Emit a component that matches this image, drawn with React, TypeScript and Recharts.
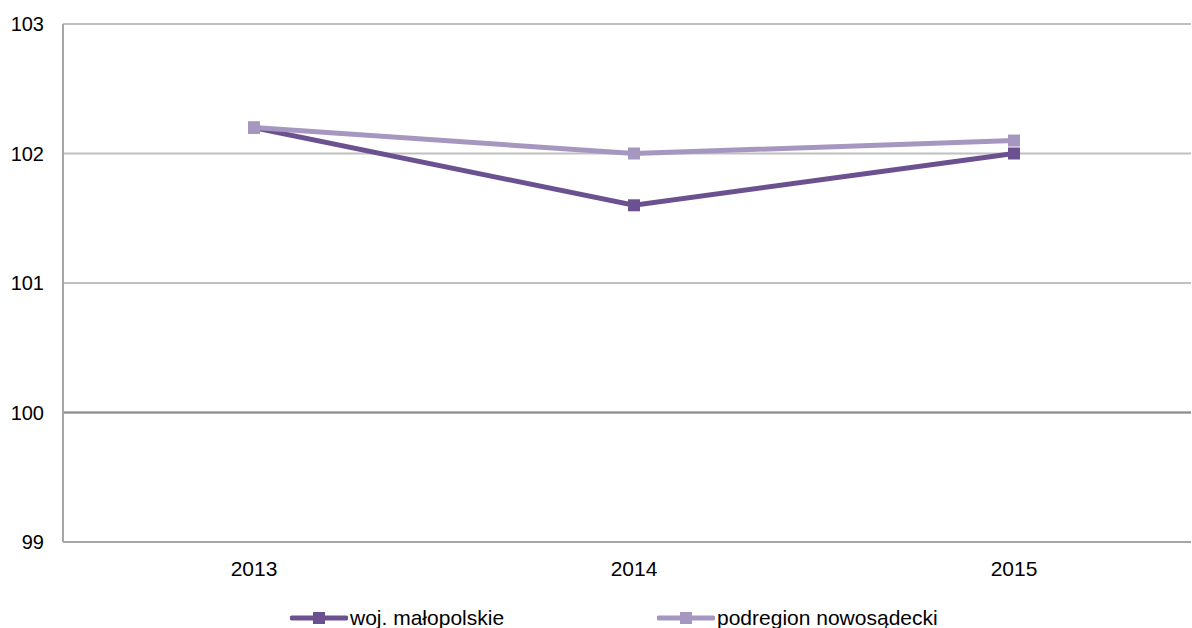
import { LineChart, Line, XAxis, YAxis, CartesianGrid, Legend, ReferenceLine } from "recharts";

const years = ["2013", "2014", "2015"];
const wojMalopolskie = [102.2, 101.6, 102.0];
const podregionNowosadecki = [102.2, 102.0, 102.1];
const yTicks = [99, 100, 101, 102, 103];

const seriesInfo = [
  { key: "woj", name: "woj. małopolskie", color: "#6b5190" },
  { key: "pod", name: "podregion nowosądecki", color: "#a697c0" },
];

const data = years.map((y, i) => ({
  year: y,
  woj: wojMalopolskie[i],
  pod: podregionNowosadecki[i],
}));

const font = "'Liberation Sans', Arial, sans-serif";

function squareDot(color: string) {
  return (p: any) => {
    if (p.cx == null || p.cy == null) return <g key={p.key ?? p.index} />;
    return <rect key={p.key ?? p.index} x={p.cx - 6} y={p.cy - 6} width={12} height={12} fill={color} />;
  };
}

function LegendBox() {
  const lefts = [290, 657];
  return (
    <div style={{ position: "relative", height: 26, width: 1192, fontFamily: font, fontSize: 21, color: "#000" }}>
      {seriesInfo.map((s, i) => (
        <div key={s.key} style={{ position: "absolute", left: lefts[i], top: 3, display: "flex", alignItems: "center", height: 26 }}>
          <svg width={58} height={14}>
            <line x1={2} y1={7} x2={56} y2={7} stroke={s.color} strokeWidth={5} strokeLinecap="round" />
            <rect x={23} y={1} width={12} height={12} fill={s.color} />
          </svg>
          <span style={{ marginLeft: 2 }}>{s.name}</span>
        </div>
      ))}
    </div>
  );
}

export default function App() {
  return (
    <div style={{ position: "absolute", left: 0, top: 0, background: "#fff", overflow: "hidden", width: 1192, height: 628 }}>
      <LineChart width={1192} height={628} data={data} margin={{ top: 24, right: 1, left: 0, bottom: 0 }}>
        <CartesianGrid vertical={false} stroke="#c0c0c0" strokeWidth={2} />
        <XAxis
          dataKey="year"
          height={60}
          padding={{ left: 191, right: 177 }}
          tickLine={false}
          tickMargin={13}
          axisLine={{ stroke: "#a6a6a6", strokeWidth: 2 }}
          tick={{ fill: "#000", fontSize: 21, fontFamily: font }}
        />
        <YAxis
          width={63}
          domain={[99, 103]}
          ticks={yTicks}
          interval={0}
          tickLine={false}
          tickMargin={13}
          axisLine={{ stroke: "#a6a6a6", strokeWidth: 2 }}
          tick={{ fill: "#000", fontSize: 20, fontFamily: font }}
        />
        <ReferenceLine y={100} stroke="#8c8c8c" strokeWidth={2} />
        <Legend verticalAlign="bottom" height={26} content={() => <LegendBox />} wrapperStyle={{ left: 0, width: 1192 }} />
        {seriesInfo.map((s) => (
          <Line
            key={s.key}
            dataKey={s.key}
            name={s.name}
            type="linear"
            stroke={s.color}
            strokeWidth={5}
            dot={squareDot(s.color)}
            activeDot={false}
            isAnimationActive={false}
          />
        ))}
      </LineChart>
    </div>
  );
}
